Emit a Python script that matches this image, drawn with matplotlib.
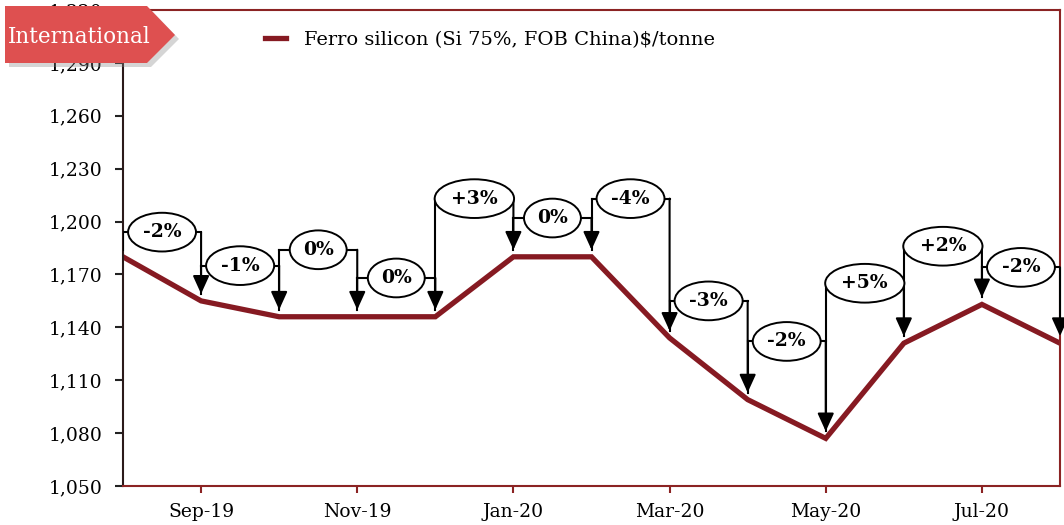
import numpy as np
import matplotlib.pyplot as plt
from matplotlib.patches import Polygon

# monthly price, $/tonne
months = ['Aug-19', 'Sep-19', 'Oct-19', 'Nov-19', 'Dec-19', 'Jan-20', 'Feb-20',
          'Mar-20', 'Apr-20', 'May-20', 'Jun-20', 'Jul-20', 'Aug-20']
price = [1180, 1155, 1146, 1146, 1146, 1180, 1180, 1134, 1099, 1077, 1131, 1153, 1131]
changes = ['-2%', '-1%', '0%', '0%', '+3%', '0%', '-4%', '-3%', '-2%', '+5%', '+2%', '-2%']
series_name = 'Ferro silicon (Si 75%, FOB China)$/tonne'

# height of each callout bracket (layout only)
label_y = [1194, 1175, 1184, 1168, 1213, 1202, 1213, 1155, 1132, 1165, 1186, 1174]

RED = '#861A22'
FRAME = '#8B2323'
SERIF = 'DejaVu Serif'

x = np.arange(len(months))

fig = plt.figure(figsize=(10.64, 5.25), dpi=100)
ax = fig.add_axes([123 / 1064, 39 / 525, 937 / 1064, 476 / 525])

ax.plot(x, price, color=RED, lw=3.8, solid_joinstyle='miter', zorder=2,
        label=series_name)
ax.set_xlim(0, len(months) - 1)
ax.set_ylim(1050, 1320)

yt = list(range(1050, 1321, 30))
ax.set_yticks(yt)
ax.set_yticklabels([f'{v:,}' for v in yt], family=SERIF, fontsize=13.5)
ax.set_xticks(x[1::2])
ax.set_xticklabels(months[1::2], family=SERIF, fontsize=13.5)
ax.tick_params(axis='y', direction='out', length=6, width=1.5, color='#222222', pad=9)
ax.tick_params(axis='x', direction='out', length=5, width=1.5, color=FRAME, pad=7)

for s in ['top', 'right', 'bottom']:
    ax.spines[s].set_color(FRAME)
    ax.spines[s].set_linewidth(1.5)
ax.spines['left'].set_color('#2B1A1A')
ax.spines['left'].set_linewidth(1.5)

# change callouts between consecutive months
arrow = '-|>,head_length=0.55,head_width=0.25'
for i in range(1, len(months)):
    x0, x1 = x[i - 1], x[i]
    ly = label_y[i - 1]
    ax.plot([x0, x0], [ly, price[i - 1] + 4], color='black', lw=1.5, zorder=3)
    ax.plot([x0, x1], [ly, ly], color='black', lw=1.5, zorder=3)
    ax.annotate('', xy=(x1, price[i] + 4), xytext=(x1, ly),
                arrowprops=dict(arrowstyle=arrow, color='black', lw=1.5,
                                shrinkA=0, shrinkB=0, mutation_scale=20),
                zorder=3)
    ax.text((x0 + x1) / 2, ly, changes[i - 1], ha='center', va='center',
            family=SERIF, fontsize=13.5, fontweight='bold', zorder=5,
            bbox=dict(boxstyle='ellipse,pad=0.25', fc='white', ec='black', lw=1.4))

fig.legend(loc='center left', bbox_to_anchor=(255 / 1064, 1 - 40 / 525),
           frameon=False, borderpad=0, handlelength=1.1, handletextpad=0.9,
           prop={'family': SERIF, 'size': 14})

# "International" banner over the top-left corner
ov = fig.add_axes([0, 0, 1, 1], zorder=10)
ov.set_xlim(0, 1064)
ov.set_ylim(525, 0)
ov.axis('off')
pts = [(5, 6), (147, 6), (175, 35), (147, 63), (5, 63)]
ov.add_patch(Polygon([(px + 4, py + 4) for px, py in pts], closed=True,
                     fc='#888888', ec='none', alpha=0.35))
ov.add_patch(Polygon(pts, closed=True, fc='#DE5050', ec='none'))
ov.text(8, 37, 'International', color='white', family=SERIF, fontsize=15.5,
        va='center', ha='left')

fig.savefig('out.png', dpi=100)
